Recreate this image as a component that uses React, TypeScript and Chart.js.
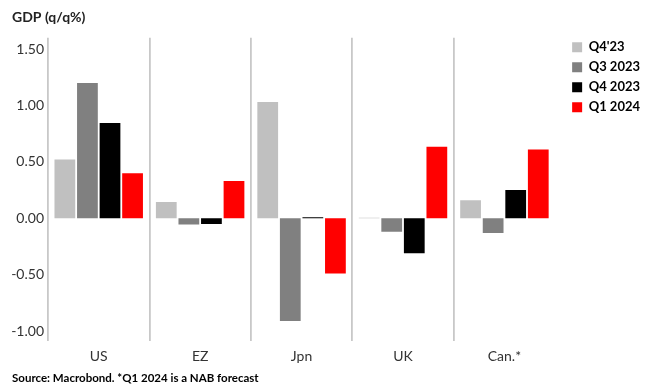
import React, { useEffect, useRef } from "react";
import { Chart, registerables } from "chart.js";

Chart.register(...registerables);

const categories = ["US", "EZ", "Jpn", "UK", "Can.*"];
const seriesNames = ["Q4'23", "Q3 2023", "Q4 2023", "Q1 2024"];
const q4_23 = [0.52, 0.145, 1.03, 0.005, 0.16];
const q3_2023 = [1.2, -0.055, -0.91, -0.12, -0.13];
const q4_2023 = [0.845, -0.05, 0.01, -0.31, 0.25];
const q1_2024 = [0.4, 0.33, -0.49, 0.635, 0.61];
const yTicks = [-1, -0.5, 0, 0.5, 1, 1.5];
const colors = ["#c0c0c0", "#808080", "#000000", "#ff0000"];

const FONT = "Lato, sans-serif";
const TEXT = "#333333";

const legendShift = {
  id: "legendShift",
  afterLayout(chart: any) {
    const lg = chart.legend;
    if (!lg) return;
    const dy = chart.chartArea.top - 4 - lg.top;
    lg.top += dy;
    lg.bottom += dy;
    const dx = chart.chartArea.right + 10 - lg.left;
    lg.left += dx;
    lg.right += dx;
  },
};

export default function App() {
  const ref = useRef<HTMLCanvasElement>(null);
  useEffect(() => {
    if (!ref.current) return;
    const values = [q4_23, q3_2023, q4_2023, q1_2024];
    const chart = new Chart(ref.current, {
      type: "bar",
      plugins: [legendShift],
      data: {
        labels: categories,
        datasets: seriesNames.map((name, i) => ({
          label: name,
          data: values[i],
          backgroundColor: colors[i],
          borderWidth: 0,
          categoryPercentage: 0.89,
          barPercentage: 0.92,
        })),
      },
      options: {
        animation: false,
        responsive: false,
        layout: { padding: { left: 12, right: 11, top: 0, bottom: 1 } },
        plugins: {
          tooltip: { enabled: false },
          title: {
            display: true,
            text: "GDP (q/q%)",
            align: "start",
            color: "#222222",
            font: { family: FONT, size: 14, weight: "bold" },
            padding: { top: 9, bottom: 12 },
          },
          subtitle: {
            display: true,
            text: "Source: Macrobond. *Q1 2024 is a NAB forecast",
            position: "bottom",
            align: "start",
            color: "#000000",
            font: { family: FONT, size: 11.5, weight: "bold" },
            padding: { top: 0, bottom: 1 },
          },
          legend: {
            position: "right",
            align: "start",
            labels: {
              boxWidth: 10,
              boxHeight: 10,
              padding: 7,
              color: "#000000",
              font: { family: FONT, size: 13, weight: "bold" },
            },
          },
        },
        scales: {
          x: {
            afterFit: (scale: any) => {
              scale.height = 30;
            },
            grid: {
              offset: true,
              drawTicks: false,
              color: (ctx: any) => (ctx.index < categories.length ? "#c8c8c8" : "rgba(0,0,0,0)"),
              lineWidth: 1.8,
            },
            border: { display: false },
            ticks: {
              color: TEXT,
              font: { family: FONT, size: 14 },
              padding: 7,
            },
          },
          y: {
            min: -1.09,
            max: 1.6,
            afterFit: (scale: any) => {
              scale.width = 36;
            },
            afterBuildTicks: (scale: any) => {
              scale.ticks = yTicks.map((v) => ({ value: v }));
            },
            grid: { display: false, drawTicks: false },
            border: { display: false },
            ticks: {
              color: TEXT,
              font: { family: FONT, size: 14 },
              padding: 4,
              callback: (v: any) => Number(v).toFixed(2),
            },
          },
        },
      },
    });
    return () => chart.destroy();
  }, []);
  return (
    <div style={{ position: "fixed", left: 0, top: 0, width: 651, height: 387, background: "#fff" }}>
      <canvas ref={ref} width={651} height={387} style={{ width: 651, height: 387 }} />
    </div>
  );
}
